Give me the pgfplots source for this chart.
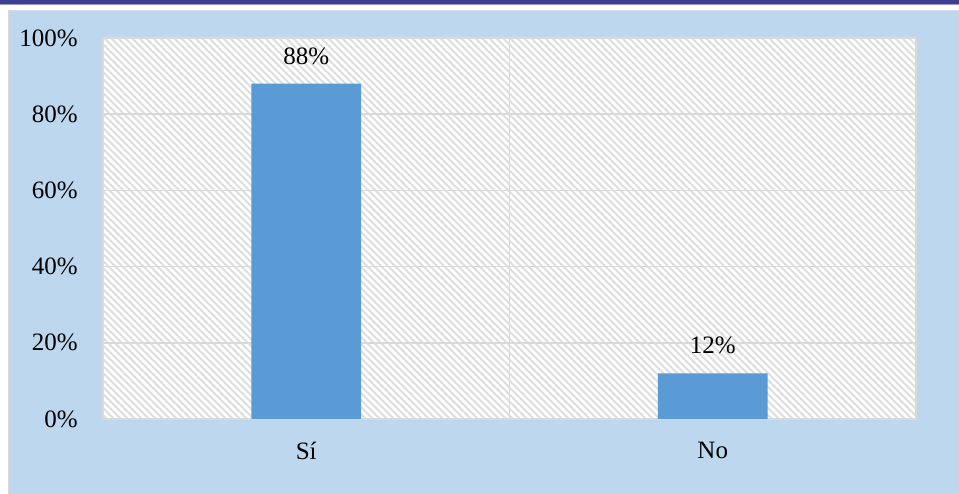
\documentclass[border=0pt]{standalone}
\usepackage{pgfplots}
\pgfplotsset{compat=1.18}
\usetikzlibrary{patterns.meta}
\usepackage{fontspec}
\setmainfont{Liberation Serif}
\definecolor{chartbg}{HTML}{BDD7EE}
\definecolor{barblue}{HTML}{5B9BD5}
\definecolor{gridgray}{HTML}{D9D9D9}
\definecolor{topbar}{HTML}{3F3F94}
\definecolor{topbarlight}{HTML}{9A9AC8}
\begin{document}
\fontsize{25bp}{29bp}\selectfont
\begin{tikzpicture}[x=1bp,y=1bp]
% page background and frame decorations
\fill[white] (-103,-75) rectangle (856,419);
\fill[topbar] (-103,415) rectangle (856,419);
\fill[topbarlight] (-103,414) rectangle (856,415);
\filldraw[fill=chartbg, draw=black!15, line width=1bp] (-94,-76) rectangle (858,408);
\begin{axis}[
  at={(0,0)}, anchor=south west,
  scale only axis, width=813bp, height=381bp,
  xmin=-0.5, xmax=1.5, ymin=0, ymax=100,
  xtick={0,1}, xticklabels={Sí,No},
  ytick={0,20,40,60,80,100},
  yticklabels={0\%,20\%,40\%,60\%,80\%,100\%},
  major tick length=0pt,
  ymajorgrids,
  grid style={draw=gridgray, line width=1.5bp},
  extra x ticks={0.5}, extra x tick labels={},
  extra x tick style={grid=major, major tick length=0pt},
  axis line style={draw=gridgray, line width=1.5bp},
  axis background/.style={preaction={fill=white}, pattern={Lines[angle=-45,distance=4.95bp,line width=1.9bp]}, pattern color=black!13},
  yticklabel style={inner sep=0pt, xshift=-25bp, font=\fontsize{25bp}{29bp}\selectfont},
  xticklabel style={inner sep=0pt, yshift=-23bp, font=\fontsize{25bp}{29bp}\selectfont},
  /pgf/number format/assume math mode=true,
  nodes near coords={\pgfmathprintnumber{\pgfplotspointmeta}\%},
  every node near coord/.append style={inner sep=0pt, yshift=19bp, font=\fontsize{25bp}{29bp}\selectfont, text=black},
]
\addplot[ybar, bar width=0.27, fill=barblue, draw=none] coordinates {(0,88) (1,12)};
\end{axis}
\pgfresetboundingbox
\useasboundingbox (-103,-75) rectangle (856,419);
\end{tikzpicture}
\end{document}
